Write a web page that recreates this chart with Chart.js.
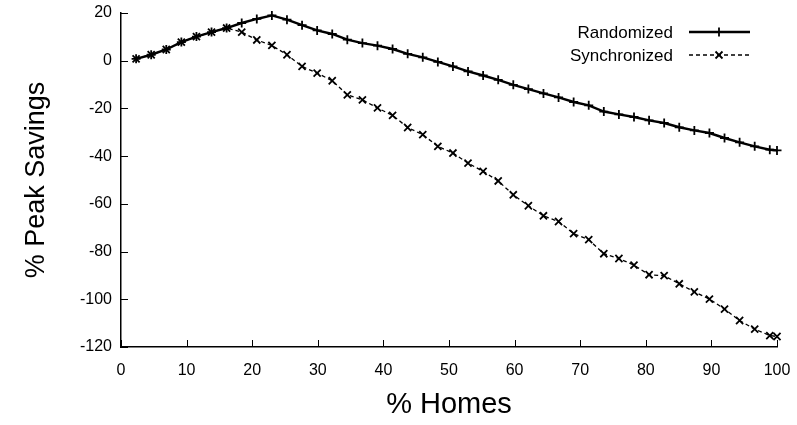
<!DOCTYPE html>
<html>
<head>
<meta charset="utf-8">
<script src="https://cdn.jsdelivr.net/npm/chart.js@4/dist/chart.umd.min.js"></script>
<style>
  html, body { margin: 0; padding: 0; background: #fff; }
  #wrap { width: 797px; height: 425px; }
</style>
</head>
<body>
<div id="wrap"><canvas id="peakChart" width="797" height="425"></canvas></div>
<script>
// % homes (x positions of the samples)
const homes = [2.3, 4.6, 6.9, 9.2, 11.5, 13.8, 16.1, 18.4, 20.7, 23.0, 25.3, 27.6, 29.9, 32.2, 34.5,
  36.8, 39.1, 41.4, 43.7, 46.0, 48.3, 50.6, 52.9, 55.2, 57.5, 59.8, 62.1, 64.4, 66.7, 69.0,
  71.3, 73.6, 75.9, 78.2, 80.5, 82.8, 85.1, 87.4, 89.7, 92.0, 94.3, 96.6, 98.9, 100];

// % peak savings
const randomized = [0.8, 2.5, 4.7, 7.8, 10.1, 12.0, 13.7, 15.8, 17.5, 19.0, 17.2, 14.9, 12.7, 11.2, 8.8,
  7.4, 6.3, 4.9, 2.9, 1.4, -0.5, -2.4, -4.5, -6.2, -8.0, -10.1, -11.9, -13.7, -15.4, -17.3,
  -18.7, -21.3, -22.5, -23.6, -25.0, -26.1, -27.9, -29.2, -30.3, -32.4, -34.2, -35.9, -37.3, -37.6];

const synchronized = [0.8, 2.5, 4.7, 7.8, 10.1, 12.0, 13.7, 12.0, 8.7, 6.4, 2.5, -2.4, -5.2, -8.4, -14.3,
  -16.4, -19.8, -22.9, -28.0, -31.0, -35.9, -38.7, -42.9, -46.4, -50.4, -56.2, -60.8, -65.0, -67.4, -72.5,
  -75.0, -80.9, -82.9, -85.7, -89.7, -90.1, -93.5, -96.9, -99.9, -104.1, -108.9, -112.5, -115.2, -115.6];

const xTicks = [0, 10, 20, 30, 40, 50, 60, 70, 80, 90, 100];
const yTicks = [20, 0, -20, -40, -60, -80, -100, -120];

const seriesNames = ['Randomized', 'Synchronized'];

const FONT = '"Liberation Sans", Arial, Helvetica, sans-serif';

const toPoints = ys => ys.map((y, i) => ({ x: homes[i], y }));

// gnuplot style: ticks pointing into the plot
const inwardTicks = {
  id: 'inwardTicks',
  afterDraw(chart) {
    const { ctx, chartArea, scales } = chart;
    ctx.save();
    ctx.strokeStyle = '#000';
    ctx.lineWidth = 1;
    xTicks.forEach(v => {
      const px = Math.round(scales.x.getPixelForValue(v)) + 0.5;
      ctx.beginPath();
      ctx.moveTo(px, chartArea.bottom);
      ctx.lineTo(px, chartArea.bottom - 7);
      ctx.stroke();
    });
    yTicks.forEach(v => {
      const py = Math.round(scales.y.getPixelForValue(v)) + 0.5;
      ctx.beginPath();
      ctx.moveTo(chartArea.left, py);
      ctx.lineTo(chartArea.left + 7, py);
      ctx.stroke();
    });
    ctx.restore();
  }
};

// legend: label on the left, line sample on the right
const keyBox = {
  id: 'keyBox',
  afterDraw(chart) {
    const ctx = chart.ctx;
    const rows = [
      { y: 32, dash: [], width: 2.4, style: 'plus' },
      { y: 55, dash: [4, 3], width: 1.3, style: 'x' }
    ];
    ctx.save();
    ctx.fillStyle = '#000';
    ctx.strokeStyle = '#000';
    ctx.font = '17px ' + FONT;
    ctx.textAlign = 'right';
    ctx.textBaseline = 'middle';
    rows.forEach((r, i) => {
      ctx.fillText(seriesNames[i], 673, r.y + 1);
      ctx.setLineDash(r.dash);
      ctx.lineWidth = r.width;
      ctx.beginPath();
      ctx.moveTo(689, r.y);
      ctx.lineTo(750, r.y);
      ctx.stroke();
      ctx.setLineDash([]);
      ctx.lineWidth = 1.8;
      ctx.beginPath();
      if (r.style === 'plus') {
        ctx.moveTo(719, r.y - 4.5); ctx.lineTo(719, r.y + 4.5);
        ctx.moveTo(714.5, r.y); ctx.lineTo(723.5, r.y);
      } else {
        ctx.moveTo(715.5, r.y - 3.5); ctx.lineTo(722.5, r.y + 3.5);
        ctx.moveTo(715.5, r.y + 3.5); ctx.lineTo(722.5, r.y - 3.5);
      }
      ctx.stroke();
    });
    ctx.restore();
  }
};

new Chart(document.getElementById('peakChart'), {
  type: 'line',
  data: {
    datasets: [
      {
        label: seriesNames[0],
        data: toPoints(randomized),
        borderColor: '#000',
        borderWidth: 2.4,
        pointStyle: 'cross',
        pointRadius: 4.5,
        pointBorderWidth: 1.8,
        pointBorderColor: '#000',
        pointBackgroundColor: '#000',
        tension: 0,
        clip: false
      },
      {
        label: seriesNames[1],
        data: toPoints(synchronized),
        borderColor: '#000',
        borderWidth: 1.3,
        borderDash: [4, 3],
        pointStyle: 'crossRot',
        pointRadius: 5,
        pointBorderWidth: 1.8,
        pointBorderColor: '#000',
        pointBackgroundColor: '#000',
        tension: 0,
        clip: false
      }
    ]
  },
  options: {
    responsive: false,
    animation: false,
    devicePixelRatio: 1,
    layout: { padding: { top: 13, right: 20, left: 0, bottom: 0 } },
    plugins: { legend: { display: false }, tooltip: { enabled: false } },
    scales: {
      x: {
        type: 'linear',
        min: 0, max: 100,
        afterFit: s => { s.height = 78; s.paddingLeft = 0; s.paddingRight = 0; },
        afterBuildTicks: s => { s.ticks = xTicks.map(v => ({ value: v })); },
        grid: { display: false, drawTicks: false },
        border: { display: true, color: '#000', width: 1.5 },
        ticks: { color: '#000', padding: 14, maxRotation: 0, font: { family: FONT, size: 16 } },
        title: { display: true, text: '% Homes', color: '#000', padding: { top: 0, bottom: 3 }, font: { family: FONT, size: 29 } }
      },
      y: {
        type: 'linear',
        min: -120, max: 20,
        afterFit: s => { s.width = 121; s.paddingTop = 0; s.paddingBottom = 0; },
        afterBuildTicks: s => { s.ticks = yTicks.map(v => ({ value: v })); },
        grid: { display: false, drawTicks: false },
        border: { display: true, color: '#000', width: 1.5 },
        ticks: { color: '#000', padding: 9, font: { family: FONT, size: 16 } },
        title: { display: true, text: '% Peak Savings', color: '#000', padding: { top: 20, bottom: 0 }, font: { family: FONT, size: 27 } }
      }
    }
  },
  plugins: [inwardTicks, keyBox]
});
</script>
</body>
</html>
